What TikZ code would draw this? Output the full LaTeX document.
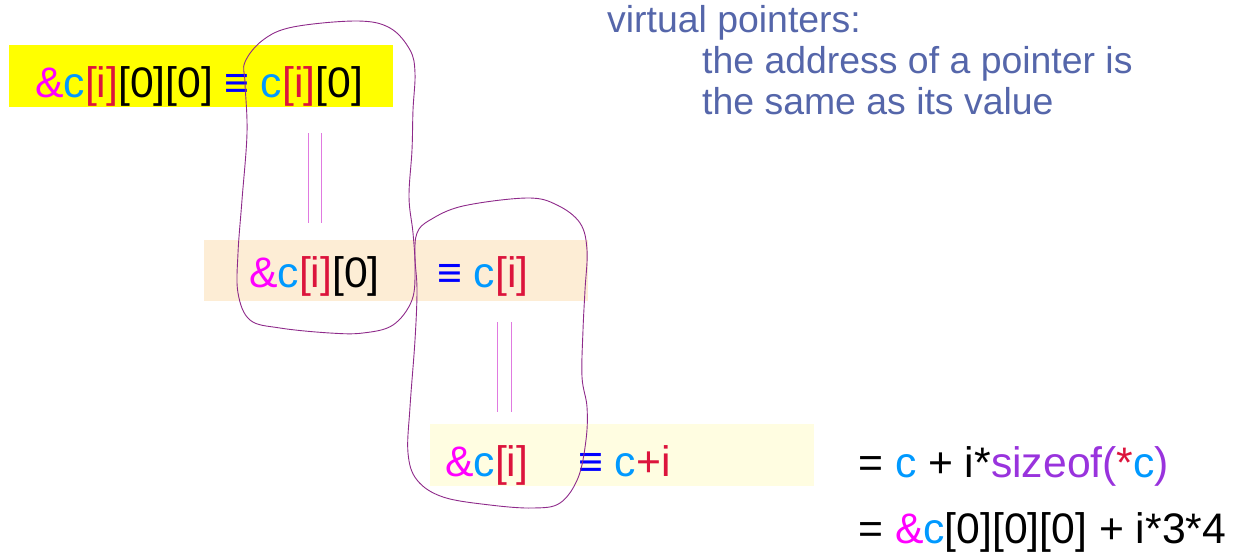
\documentclass[tikz,border=0pt]{standalone}
\usepackage{fontspec}
\setmainfont{Liberation Sans}
\definecolor{amp}{HTML}{FF00FF}
\definecolor{cb}{HTML}{0099FF}
\definecolor{ir}{HTML}{DC143C}
\definecolor{eqb}{HTML}{0000FF}
\definecolor{purp}{HTML}{9933DD}
\definecolor{topb}{HTML}{5566AA}
\definecolor{boxy}{HTML}{FFFF00}
\definecolor{boxo}{HTML}{FDEDD5}
\definecolor{boxp}{HTML}{FFFDE1}
\definecolor{loopc}{HTML}{8E2A8A}
\definecolor{dbl}{HTML}{E07AE0}
\newcommand{\A}{\textcolor{amp}{\&}}
\newcommand{\C}{\textcolor{cb}{c}}
\newcommand{\I}{\textcolor{ir}{[i]}}
\newcommand{\EQ}{\textcolor{eqb}{≡}}
\begin{document}
\begin{tikzpicture}[x=1pt,y=-1pt,
  txt/.style={anchor=base west,inner sep=0pt,font=\fontsize{42.7}{50}\selectfont},
  note/.style={anchor=base west,inner sep=0pt,font=\fontsize{37.4}{44}\selectfont,text=topb},
  loopline/.style={draw=loopc,line width=0.9pt},
  eqline/.style={draw=dbl,line width=1.2pt,double=white,double distance=12.5pt}]
\useasboundingbox (0,0) rectangle (1249,555);
% boxes
\fill[boxy] (9,45) rectangle (393,107);
\fill[boxo] (204,240) rectangle (588,301);
\fill[boxp] (430,424) rectangle (814,486);
% texts
\node[txt] (r1a) at (35,97) {\A\C\I[0][0]};
\node[txt] (r1b) at (224,97) {\EQ\ \C\I[0]};
\node[txt] (r2a) at (249,287) {\A\C\I[0]};
\node[txt] (r2b) at (437,287) {\EQ\ \C\I};
\node[txt] (r3a) at (445,476) {\A\C\I};
\node[txt] (r3b) at (578,476) {\EQ\ \C\textcolor{ir}{+i}};
\node[txt] (e1) at (858,477) {= \C\ + i*\textcolor{purp}{sizeof(}\textcolor{ir}{*}\C\textcolor{purp}{)}};
\node[txt] (e2) at (858,543) {= \A\C[0][0][0] + i*3*4};
\node[note] (n1) at (607,32) {virtual pointers:};
\node[note] (n2) at (702,73) {the address of a pointer is};
\node[note] (n3) at (702,114) {the same as its value};
% equality connectors
\coordinate (d1t) at (315,133);
\coordinate (d1b) at (315,223);
\coordinate (d2t) at (504.5,322);
\coordinate (d2b) at (504.5,412);
\draw[eqline] (d1t) -- (d1b);
\draw[eqline] (d2t) -- (d2b);
% loops
\draw[loopline] plot[smooth cycle,tension=0.6] coordinates {
 (245,62) (263,40) (293,27) (357,21) (390,28) (410,50) (415,73) (413,110)
 (412,150) (409,197) (413,233) (415,267) (412,300) (393,325) (363,333)
 (330,333) (280,328) (250,320) (238,293) (238,253) (242,200) (247,133) (245,83)};
\draw[loopline] plot[smooth cycle,tension=0.6] coordinates {
 (417,233) (430,220) (463,206) (527,198) (557,205) (580,223) (587,250)
 (585,290) (583,330) (582,377) (587,407) (586,440) (578,478) (560,503)
 (533,508) (490,505) (443,497) (417,480) (408,453) (410,407) (415,340)
 (417,290) (415,257)};
\end{tikzpicture}
\end{document}
